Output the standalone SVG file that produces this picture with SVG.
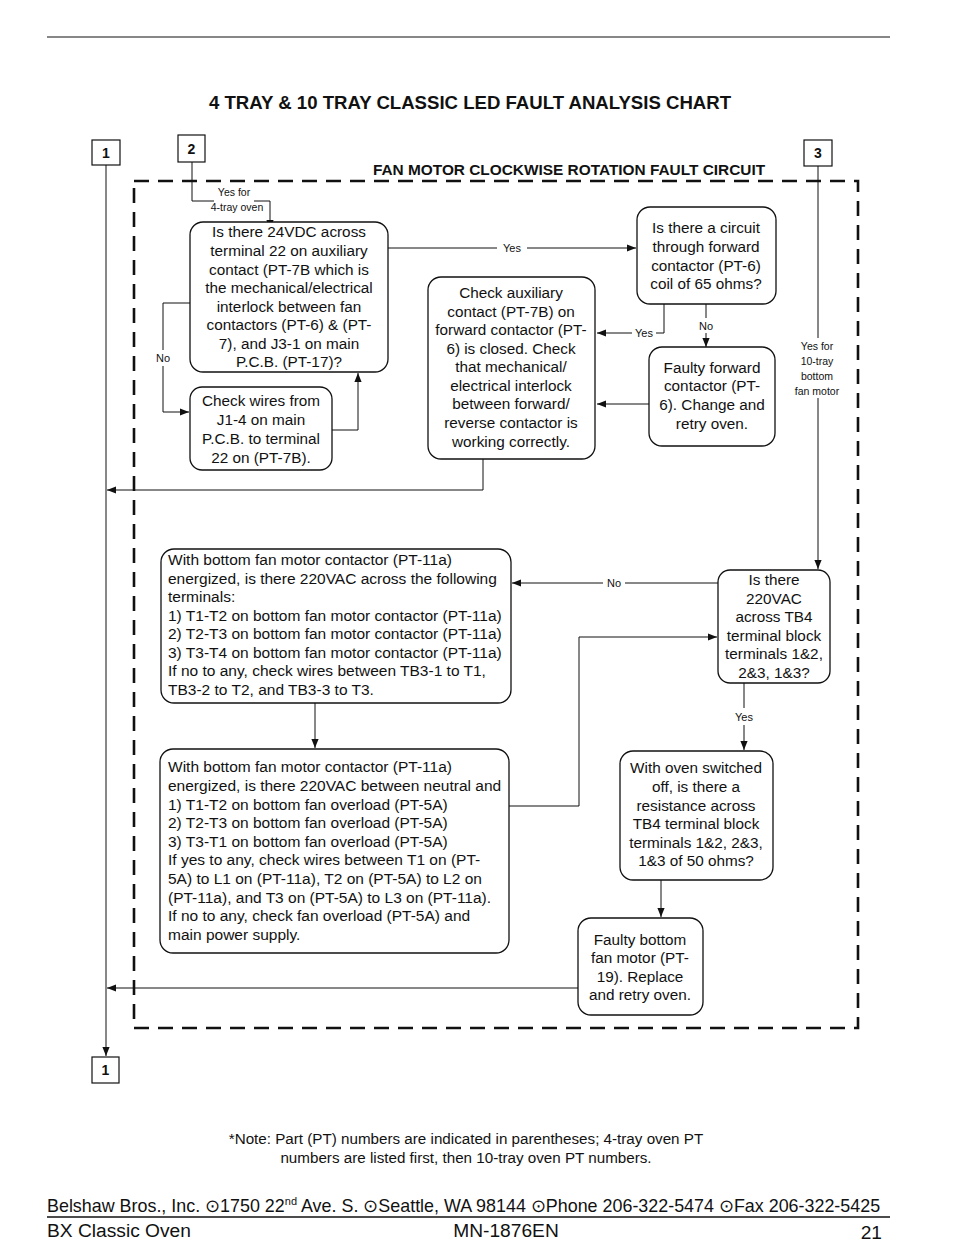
<svg xmlns="http://www.w3.org/2000/svg" width="954" height="1260" viewBox="0 0 954 1260">
<defs>
<marker id="ah" viewBox="0 0 10 10" refX="10" refY="5" markerWidth="9" markerHeight="9" markerUnits="userSpaceOnUse" orient="auto"><path d="M0,1 L10,5 L0,9 z" fill="#111"/></marker>
<style>
text{font-family:"Liberation Sans",Arial,sans-serif;fill:#111}
.bx{fill:#fff;stroke:#111;stroke-width:1.3}
.t{font-size:15.3px;text-anchor:middle}
.tl{font-size:15.5px}
.ln{fill:none;stroke:#111;stroke-width:1}
.ar{fill:none;stroke:#111;stroke-width:1;marker-end:url(#ah)}
.lb{font-size:11px;text-anchor:middle}
.sm{font-size:10.5px;text-anchor:middle}
.dash{fill:none;stroke:#111;stroke-width:2.6;stroke-dasharray:15 9}
.nb{fill:#fff;stroke:#111;stroke-width:1.2}
.num{font-size:14px;font-weight:bold;text-anchor:middle}
</style>
</defs>
<rect width="954" height="1260" fill="#fff"/>
<line x1="47" y1="37" x2="890" y2="37" stroke="#111" stroke-width="1.2"/>
<text x="470" y="109" font-size="18.6" font-weight="bold" text-anchor="middle">4 TRAY &amp; 10 TRAY CLASSIC LED FAULT ANALYSIS CHART</text>
<text x="569" y="175" font-size="15.4" font-weight="bold" text-anchor="middle">FAN MOTOR CLOCKWISE ROTATION FAULT CIRCUIT</text>
<path class="dash" d="M134,181 H858 V1028 H134 Z"/>

<g id="connectors">
<path class="ar" d="M106,165 V1056"/>
<path class="ln" d="M192,162 V201 H214"/>
<path class="ar" d="M254,201 H270 V229"/>
<text class="sm" x="234" y="196">Yes for</text>
<text class="sm" x="237" y="211">4-tray oven</text>
<path class="ln" d="M190,303 H163 V350"/>
<path class="ar" d="M163,366 V412 H189"/>
<text class="lb" x="163" y="362">No</text>
<path class="ar" d="M332,430 H358 V373"/>
<path class="ln" d="M388,248 H497"/>
<path class="ar" d="M527,248 H636"/>
<text class="lb" x="512" y="252">Yes</text>
<path class="ln" d="M664,304 V333 H656"/>
<path class="ar" d="M632,333 H597"/>
<text class="lb" x="644" y="337">Yes</text>
<path class="ln" d="M706,304 V318"/>
<path class="ar" d="M706,333 V347"/>
<text class="lb" x="706" y="330">No</text>
<path class="ar" d="M649,404 H597"/>
<path class="ar" d="M483,459 V490 H107"/>
<path class="ln" d="M818,166 V338"/>
<path class="ar" d="M818,398 V569"/>
<text class="sm" x="817" y="350">Yes for</text>
<text class="sm" x="817" y="365">10-tray</text>
<text class="sm" x="817" y="380">bottom</text>
<text class="sm" x="817" y="395">fan motor</text>
<path class="ln" d="M718,583 H625"/>
<path class="ar" d="M603,583 H512"/>
<text class="lb" x="614" y="587">No</text>
<path class="ar" d="M315,703 V748"/>
<path class="ar" d="M509,806 H579 V637 H717"/>
<path class="ln" d="M744,683 V708"/>
<path class="ar" d="M744,725 V750"/>
<text class="lb" x="744" y="721">Yes</text>
<path class="ar" d="M661,880 V917"/>
<path class="ar" d="M578,988 H107"/>
</g>

<g id="n1top"><rect class="nb" x="92" y="140" width="28" height="25"/><text class="num" x="106" y="158">1</text></g>
<g id="n2"><rect class="nb" x="178" y="135" width="27" height="27"/><text class="num" x="191.5" y="154">2</text></g>
<g id="n3"><rect class="nb" x="804" y="140" width="28" height="26"/><text class="num" x="818" y="158">3</text></g>
<g id="n1bot"><rect class="nb" x="92" y="1057" width="27" height="26"/><text class="num" x="105.5" y="1075">1</text></g>

<g id="boxA"><rect class="bx" x="190" y="222" width="198" height="150" rx="13"/>
<text class="t" x="289"><tspan x="289" y="237">Is there 24VDC across</tspan><tspan x="289" y="256">terminal 22 on auxiliary</tspan><tspan x="289" y="275">contact (PT-7B which is</tspan><tspan x="289" y="293">the mechanical/electrical</tspan><tspan x="289" y="312">interlock between fan</tspan><tspan x="289" y="330">contactors (PT-6) &amp; (PT-</tspan><tspan x="289" y="349">7), and J3-1 on main</tspan><tspan x="289" y="367">P.C.B. (PT-17)?</tspan></text></g>

<g id="boxB"><rect class="bx" x="190" y="387" width="142" height="83" rx="12"/>
<text class="t" x="261"><tspan x="261" y="406">Check wires from</tspan><tspan x="261" y="425">J1-4 on main</tspan><tspan x="261" y="444">P.C.B. to terminal</tspan><tspan x="261" y="463">22 on (PT-7B).</tspan></text></g>

<g id="boxC"><rect class="bx" x="637" y="207" width="139" height="97" rx="13"/>
<text class="t" x="706"><tspan x="706" y="233">Is there a circuit</tspan><tspan x="706" y="252">through forward</tspan><tspan x="706" y="271">contactor (PT-6)</tspan><tspan x="706" y="289">coil of 65 ohms?</tspan></text></g>

<g id="boxD"><rect class="bx" x="428" y="277" width="167" height="182" rx="13"/>
<text class="t" x="511"><tspan x="511" y="298">Check auxiliary</tspan><tspan x="511" y="317">contact (PT-7B) on</tspan><tspan x="511" y="335">forward contactor (PT-</tspan><tspan x="511" y="354">6) is closed. Check</tspan><tspan x="511" y="372">that mechanical/</tspan><tspan x="511" y="391">electrical interlock</tspan><tspan x="511" y="409">between forward/</tspan><tspan x="511" y="428">reverse contactor is</tspan><tspan x="511" y="447">working correctly.</tspan></text></g>

<g id="boxE"><rect class="bx" x="649" y="347" width="126" height="99" rx="13"/>
<text class="t" x="712"><tspan x="712" y="373">Faulty forward</tspan><tspan x="712" y="391">contactor (PT-</tspan><tspan x="712" y="410">6).  Change and</tspan><tspan x="712" y="429">retry oven.</tspan></text></g>

<g id="boxF"><rect class="bx" x="718" y="570" width="112" height="113" rx="12"/>
<text class="t" x="774"><tspan x="774" y="585">Is there</tspan><tspan x="774" y="604">220VAC</tspan><tspan x="774" y="622">across TB4</tspan><tspan x="774" y="641">terminal block</tspan><tspan x="774" y="659">terminals 1&amp;2,</tspan><tspan x="774" y="678">2&amp;3, 1&amp;3?</tspan></text></g>

<g id="boxG"><rect class="bx" x="161" y="549" width="350" height="154" rx="13"/>
<text class="tl" x="168"><tspan x="168" y="565">With bottom fan motor contactor (PT-11a)</tspan><tspan x="168" y="584">energized, is there 220VAC across the following</tspan><tspan x="168" y="602">terminals:</tspan><tspan x="168" y="621">1) T1-T2 on bottom fan motor contactor (PT-11a)</tspan><tspan x="168" y="639">2) T2-T3 on bottom fan motor contactor (PT-11a)</tspan><tspan x="168" y="658">3) T3-T4 on bottom fan motor contactor (PT-11a)</tspan><tspan x="168" y="676">If no to any, check wires between TB3-1 to T1,</tspan><tspan x="168" y="695">TB3-2 to T2, and TB3-3 to T3.</tspan></text></g>

<g id="boxH"><rect class="bx" x="160" y="749" width="349" height="204" rx="13"/>
<text class="tl" x="168"><tspan x="168" y="772">With bottom fan motor contactor (PT-11a)</tspan><tspan x="168" y="791">energized, is there 220VAC between neutral and</tspan><tspan x="168" y="810">1) T1-T2 on bottom fan overload (PT-5A)</tspan><tspan x="168" y="828">2) T2-T3 on bottom fan overload (PT-5A)</tspan><tspan x="168" y="847">3) T3-T1 on bottom fan overload (PT-5A)</tspan><tspan x="168" y="865">If yes to any, check wires between T1 on (PT-</tspan><tspan x="168" y="884">5A) to L1 on (PT-11a), T2 on (PT-5A) to L2 on</tspan><tspan x="168" y="903">(PT-11a), and T3 on (PT-5A) to L3 on (PT-11a).</tspan><tspan x="168" y="921">If no to any, check fan overload (PT-5A) and</tspan><tspan x="168" y="940">main power supply.</tspan></text></g>

<g id="boxI"><rect class="bx" x="620" y="751" width="153" height="129" rx="13"/>
<text class="t" x="696"><tspan x="696" y="773">With oven switched</tspan><tspan x="696" y="792">off, is there a</tspan><tspan x="696" y="811">resistance across</tspan><tspan x="696" y="829">TB4 terminal block</tspan><tspan x="696" y="848">terminals 1&amp;2, 2&amp;3,</tspan><tspan x="696" y="866">1&amp;3 of 50 ohms?</tspan></text></g>

<g id="boxJ"><rect class="bx" x="578" y="918" width="125" height="97" rx="13"/>
<text class="t" x="640"><tspan x="640" y="945">Faulty bottom</tspan><tspan x="640" y="963">fan motor (PT-</tspan><tspan x="640" y="982">19). Replace</tspan><tspan x="640" y="1000">and retry oven.</tspan></text></g>

<g id="footer">
<text x="466" y="1144" font-size="15.2" text-anchor="middle">*Note: Part (PT) numbers are indicated in parentheses; 4-tray oven PT</text>
<text x="466" y="1163" font-size="15.2" text-anchor="middle">numbers are listed first, then 10-tray oven PT numbers.</text>
<text x="47" y="1212" font-size="17.9">Belshaw Bros., Inc. ⊙1750 22<tspan font-size="11" dy="-7">nd</tspan><tspan dy="7"> Ave. S. ⊙Seattle, WA 98144 ⊙Phone 206-322-5474 ⊙Fax 206-322-5425</tspan></text>
<line x1="47" y1="1217" x2="890" y2="1217" stroke="#111" stroke-width="1.3"/>
<text x="47" y="1237" font-size="19.2">BX Classic Oven</text>
<text x="506" y="1237" font-size="19.2" text-anchor="middle">MN-1876EN</text>
<text x="882" y="1239" font-size="19.2" text-anchor="end">21</text>
</g>
</svg>
